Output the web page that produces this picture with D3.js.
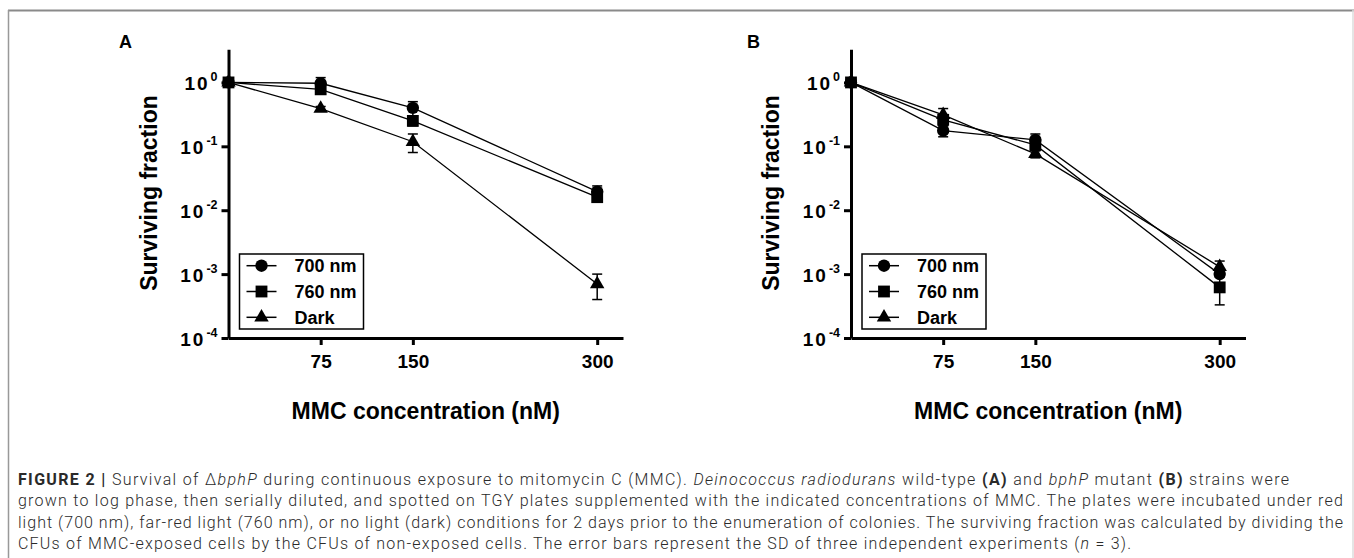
<!DOCTYPE html>
<html>
<head>
<meta charset="utf-8">
<script src="https://cdn.jsdelivr.net/npm/d3@7"></script>
<style>
  body { margin: 0; background: #fff; }
  svg { display: block; }
</style>
</head>
<body>
<div id="fig"></div>
<script>
//chart values
const doses = [0, 75, 150, 300]; //MMC concentration (nM)
const seriesNames = ["700 nm", "760 nm", "Dark"];
const yTicks = [1, 0.1, 0.01, 0.001, 0.0001];
const xTicks = [75, 150, 300];

//panel A, wild-type: means and SD
const a700 = [1, 0.97, 0.40, 0.0195];
const a700sd = [0, 0.22, 0.10, 0.0045];
const a760 = [1, 0.78, 0.25, 0.016];
const a760sd = [0, 0.08, 0.04, 0.002];
const aDark = [1, 0.39, 0.118, 0.0007];
const aDarkSd = [0, 0.03, 0.038, 0.0003];

//panel B, bphP mutant: means and SD
const b700 = [1, 0.176, 0.126, 0.001];
const b700sd = [0, 0.035, 0.03, 0.0001];
const b760 = [1, 0.26, 0.105, 0.00062];
const b760sd = [0, 0.05, 0.02, 0.00029];
const bDark = [1, 0.31, 0.076, 0.0013];
const bDarkSd = [0, 0.08, 0.01, 0.0003];

//caption, one array per printed line: [text, style]
const captionLines = [
  [["FIGURE 2", "b"], [" | ", "b"], ["Survival of \u0394", ""], ["bphP", "i"],
   [" during continuous exposure to mitomycin C (MMC). ", ""], ["Deinococcus radiodurans", "i"],
   [" wild-type ", ""], ["(A)", "b"], [" and ", ""], ["bphP", "i"], [" mutant ", ""], ["(B)", "b"], [" strains were", ""]],
  [["grown to log phase, then serially diluted, and spotted on TGY plates supplemented with the indicated concentrations of MMC. The plates were incubated under red", ""]],
  [["light (700 nm), far-red light (760 nm), or no light (dark) conditions for 2 days prior to the enumeration of colonies. The surviving fraction was calculated by dividing the", ""]],
  [["CFUs of MMC-exposed cells by the CFUs of non-exposed cells. The error bars represent the SD of three independent experiments (", ""], ["n", "i"], [" = 3).", ""]]
];
const captionWidths = [1271, 1325, 1325, 1113];

//layout
const W = 1354, H = 558;
const plotTop = 49.3, plotBottom = 338, plotW = 394.5;
const xMax = 321, yMin = 1e-4, yMax = 3.3;
const chartFont = "'Liberation Sans', Arial, sans-serif";

const panels = [
  {label: "A", left: 228.5, labelX: 119, series: [[a700, a700sd], [a760, a760sd], [aDark, aDarkSd]]},
  {label: "B", left: 851, labelX: 747, series: [[b700, b700sd], [b760, b760sd], [bDark, bDarkSd]]}
];
const symbols = [d3.symbolCircle, d3.symbolSquare, d3.symbolTriangle];
const symbolSizes = [120, 140, 90];

var svg = d3.select("#fig").append("svg")
  .attr("width", W)
  .attr("height", H);

//frame around the figure
svg.append("line").attr("x1", 8).attr("x2", W).attr("y1", 10.5).attr("y2", 10.5)
  .attr("stroke", "#8a8a8a").attr("stroke-width", 2);
svg.append("line").attr("x1", 8.5).attr("x2", 8.5).attr("y1", 10).attr("y2", H)
  .attr("stroke", "#999").attr("stroke-width", 1.5);
svg.append("line").attr("x1", W - 1).attr("x2", W - 1).attr("y1", 10).attr("y2", H)
  .attr("stroke", "#ddd").attr("stroke-width", 1.5);

panels.forEach(drawPanel);

function drawPanel(p) {
  var g = svg.append("g")
    .attr("transform", "translate(" + p.left + ",0)")
    .style("font-family", chartFont)
    .style("font-weight", "bold");

  var x = d3.scaleLinear().domain([0, xMax]).range([0, plotW]);
  var y = d3.scaleLog().domain([yMin, yMax]).range([plotBottom, plotTop]);

  //panel letter
  svg.append("text")
    .attr("x", p.labelX).attr("y", 48)
    .style("font-family", chartFont).style("font-weight", "bold").style("font-size", "18px")
    .text(p.label);

  //Y axis with 10^n labels
  var yg = g.append("g").call(d3.axisLeft(y).tickValues(yTicks).tickSize(7).tickSizeOuter(0));
  yg.selectAll(".tick text").each(function(d) {
    var t = d3.select(this).attr("dy", null).attr("x", -11).text(null)
      .style("font-size", "19px").attr("fill", "#000");
    t.append("tspan").attr("dy", 7).attr("letter-spacing", 2).text("10");
    t.append("tspan").attr("dy", -8.5).attr("dx", 1).style("font-size", "12.5px")
      .text(Math.round(Math.log10(d)));
  });

  //X axis
  var xg = g.append("g")
    .attr("transform", "translate(0," + plotBottom + ")")
    .call(d3.axisBottom(x).tickValues(xTicks).tickSize(7).tickSizeOuter(0).tickPadding(10));
  xg.selectAll(".tick text").style("font-size", "19px").attr("fill", "#000");

  g.selectAll(".domain, .tick line").attr("stroke", "#000").attr("stroke-width", 3);

  //axis titles
  g.append("text")
    .attr("transform", "translate(-80," + 193 + ") rotate(-90)")
    .attr("text-anchor", "middle").attr("dy", "0.36em")
    .style("font-size", "23px")
    .text("Surviving fraction");
  g.append("text")
    .attr("x", plotW / 2).attr("y", 419)
    .attr("text-anchor", "middle")
    .style("font-size", "23px")
    .text("MMC concentration (nM)");

  //series
  var line = d3.line()
    .x(function(d) { return x(d.dose); })
    .y(function(d) { return y(d.v); });

  p.series.forEach(function(s, k) {
    var pts = doses.map(function(dose, i) { return {dose: dose, v: s[0][i], sd: s[1][i]}; });

    g.append("path").datum(pts)
      .attr("d", line).attr("fill", "none")
      .attr("stroke", "#000").attr("stroke-width", 1.3);

    //error bars
    var eb = g.append("g").selectAll("g")
      .data(pts.filter(function(d) { return d.sd > 0; }))
      .enter().append("g")
      .attr("stroke", "#000").attr("stroke-width", 1.5);
    eb.append("line")
      .attr("x1", function(d) { return x(d.dose); }).attr("x2", function(d) { return x(d.dose); })
      .attr("y1", function(d) { return y(Math.max(d.v - d.sd, yMin)); })
      .attr("y2", function(d) { return y(d.v + d.sd); });
    [-1, 1].forEach(function(sign) {
      eb.append("line")
        .attr("x1", function(d) { return x(d.dose) - 5; }).attr("x2", function(d) { return x(d.dose) + 5; })
        .attr("y1", function(d) { return y(Math.max(d.v + sign * d.sd, yMin)); })
        .attr("y2", function(d) { return y(Math.max(d.v + sign * d.sd, yMin)); });
    });

    //markers
    g.append("g").selectAll("path")
      .data(pts)
      .enter().append("path")
      .attr("d", d3.symbol().type(symbols[k]).size(symbolSizes[k]))
      .attr("transform", function(d) { return "translate(" + x(d.dose) + "," + y(d.v) + ")"; })
      .attr("fill", "#000");
  });

  //legend
  var lg = g.append("g").attr("transform", "translate(11,254)");
  lg.append("rect")
    .attr("width", 124).attr("height", 75)
    .attr("fill", "#fff").attr("stroke", "#000").attr("stroke-width", 1.5);
  seriesNames.forEach(function(name, k) {
    var cy = 11.7 + k * 25.8;
    lg.append("line").attr("x1", 7).attr("x2", 37).attr("y1", cy).attr("y2", cy)
      .attr("stroke", "#000").attr("stroke-width", 1.5);
    lg.append("path")
      .attr("d", d3.symbol().type(symbols[k]).size(symbolSizes[k]))
      .attr("transform", "translate(22," + cy + ")");
    lg.append("text")
      .attr("x", 55).attr("y", cy + 6.5)
      .style("font-size", "18px")
      .text(name);
  });
}

//caption
var cap = svg.append("g")
  .style("font-family", "Roboto, 'Liberation Sans', sans-serif")
  .style("font-size", "16px")
  .style("font-weight", 300)
  .attr("fill", "#2a2a2a");
captionLines.forEach(function(segs, i) {
  var t = cap.append("text")
    .attr("x", 18).attr("y", 485 + i * 21.4)
    .attr("textLength", captionWidths[i])
    .attr("lengthAdjust", "spacing");
  segs.forEach(function(s) {
    var sp = t.append("tspan").text(s[0]);
    if (s[1] === "b") sp.style("font-weight", "bold");
    if (s[1] === "i") sp.style("font-style", "italic");
  });
});
</script>
</body>
</html>
